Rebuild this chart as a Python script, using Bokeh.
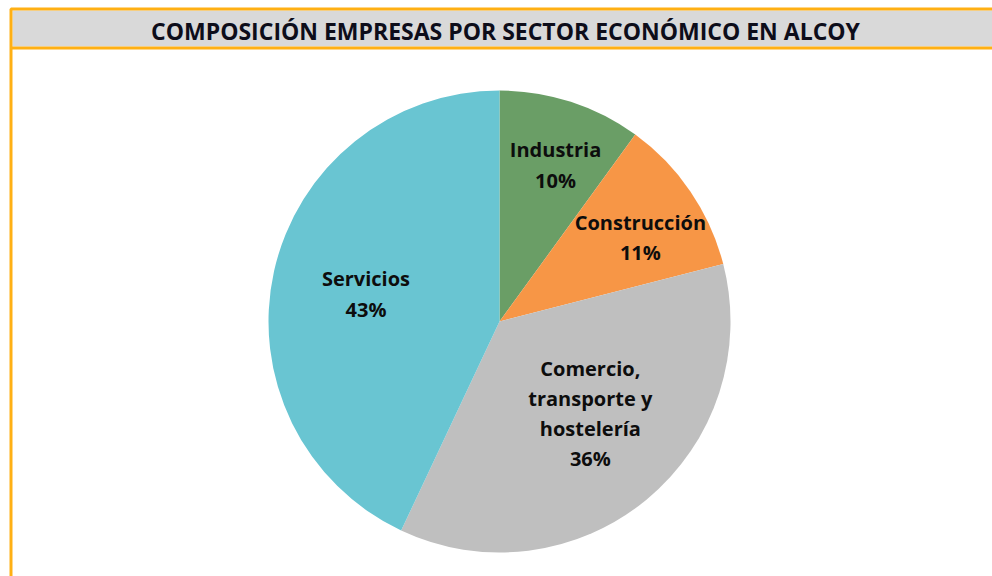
import math
from bokeh.plotting import figure
from bokeh.models import Range1d, ColumnDataSource
from bokeh.core.properties import value
from bokeh.embed import file_html
from bokeh.resources import INLINE

# ---- data ----
title = "COMPOSICIÓN EMPRESAS POR SECTOR ECONÓMICO EN ALCOY"
sectors = ["Industria", "Construcción", "Comercio,\ntransporte y\nhostelería", "Servicios"]
shares = [10, 11, 36, 43]
colors = ["#6a9e66", "#f79646", "#bfbfbf", "#69c5d2"]

# ---- layout constants ----
W, H = 992, 576
label_r = [0.72, 0.71, 0.56, 0.59]      # label distance as a fraction of the radius
label_turn = [1.7, 3.4, -5.0, -1.0]     # label angle adjustment (degrees, clockwise)
cx, cy, R = 499, 576 - 321, 231
FONT = "Open Sans"
ORANGE = "#ffb014"

p = figure(width=W, height=H, output_backend="svg", toolbar_location=None,
           x_range=Range1d(0, W), y_range=Range1d(576 - H, 576),
           min_border=0, border_fill_color="white", background_fill_color="white")
p.axis.visible = False
p.grid.visible = False
p.outline_line_color = None

# title bar
p.quad(left=[12], right=[1010], top=[576 - 10], bottom=[576 - 46],
       fill_color="#d9d9d9", line_color=None)
p.segment(x0=[10], y0=[576 - 47.5], x1=[1010], y1=[576 - 47.5],
          line_color=ORANGE, line_width=3)
# outer frame (continues beyond the visible window)
p.quad(left=[10.5], right=[1010], top=[576 - 8.5], bottom=[-40],
       fill_color=None, line_color=ORANGE, line_width=3)
p.text(x=[505], y=[576 - 30], text=[title], text_align="center", text_baseline="middle",
       text_font=value(FONT), text_font_style="bold", text_font_size="23px",
       text_color="#0d0d1a")

# pie
total = sum(shares)
starts, ends, lx, ly, labels = [], [], [], [], []
cum = 0.0
for i, (s, v) in enumerate(zip(sectors, shares)):
    a0 = cum / total
    a1 = (cum + v) / total
    cum += v
    starts.append(math.pi / 2 - 2 * math.pi * a1)
    ends.append(math.pi / 2 - 2 * math.pi * a0)
    mid = math.pi / 2 - 2 * math.pi * (a0 + a1) / 2 - math.radians(label_turn[i])
    lx.append(cx + label_r[i] * R * math.cos(mid))
    ly.append(cy + label_r[i] * R * math.sin(mid))
    labels.append(f"{s}\n{round(100 * v / total)}%")

src = ColumnDataSource(dict(start=starts, end=ends, color=colors, lx=lx, ly=ly, label=labels))
p.wedge(x=cx, y=cy, radius=R, start_angle="start", end_angle="end",
        fill_color="color", line_color=None, source=src)
p.text(x="lx", y="ly", text="label", source=src, text_align="center", text_baseline="middle",
       text_font=value(FONT), text_font_style="bold", text_font_size="20px",
       text_line_height=1.12, text_color="#0d0d0d")

open("out.html", "w").write(file_html(p, INLINE))
